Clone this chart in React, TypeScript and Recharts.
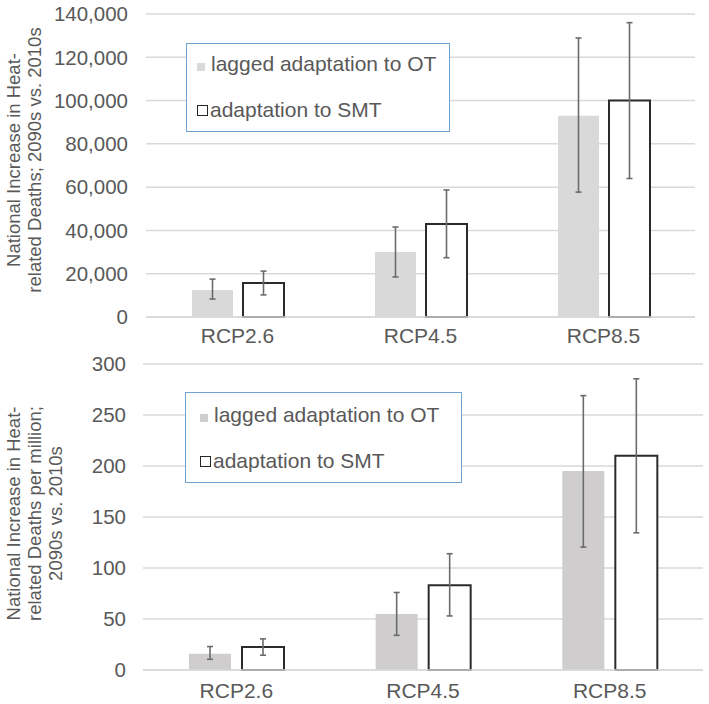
import { BarChart, Bar, XAxis, YAxis, CartesianGrid, ErrorBar, Legend } from 'recharts';

const categories = ['RCP2.6', 'RCP4.5', 'RCP8.5'];
const seriesNames = ['lagged adaptation to OT', 'adaptation to SMT'];

// top panel: national increase in deaths
const deathsLagged = [12500, 30000, 93000];
const deathsLaggedErr = [[4200, 5000], [11500, 11600], [35300, 35900]];
const deathsSMT = [15700, 43000, 100000];
const deathsSMTErr = [[5500, 5500], [15600, 15700], [36000, 36000]];
const deathsTicks = [0, 20000, 40000, 60000, 80000, 100000, 120000, 140000];

// bottom panel: deaths per million
const rateLagged = [16, 55, 195];
const rateLaggedErr = [[5.5, 7], [21, 21], [74.5, 74]];
const rateSMT = [22.5, 83, 210];
const rateSMTErr = [[8, 8], [30, 31], [75.5, 75.5]];
const rateTicks = [0, 50, 100, 150, 200, 250, 300];

const FONT = '"Liberation Sans", Arial, sans-serif';
const TEXT = '#595959';
const GRID = '#d9d9d9';

type PanelProps = {
  top: number;
  height: number;
  lagged: number[];
  laggedErr: number[][];
  smt: number[];
  smtErr: number[][];
  ticks: number[];
  axisWidth: number;
  marginTop: number;
  marginRight: number;
  marginBottom: number;
  xAxisHeight: number;
  xTickGap: number;
  yTickGap: number;
  grayFill: string;
  barSize: number;
  barGap: number;
  legendBox: { left: number; top: number; width: number; height: number; squareLeft: number; rows: number[] };
  labelLines: string[];
  labelCenter: { x: number; y: number };
};

function LegendBox({ box, grayFill }: { box: PanelProps['legendBox']; grayFill: string }) {
  return (
    <div
      style={{
        position: 'relative',
        width: box.width,
        height: box.height,
        boxSizing: 'border-box',
        border: '1.5px solid #6fa3d4',
        background: '#fff',
        fontFamily: FONT,
        fontSize: 21,
        color: TEXT,
      }}
    >
      {seriesNames.map((name, i) => (
        <div
          key={name}
          style={{
            position: 'absolute',
            left: box.squareLeft,
            top: box.rows[i] - 12,
            height: 24,
            display: 'flex',
            alignItems: 'center',
            whiteSpace: 'nowrap',
          }}
        >
          {i === 0 ? (
            <span style={{ width: 8, height: 8, background: grayFill, marginTop: 6, marginRight: 6 }} />
          ) : (
            <span
              style={{
                width: 11,
                height: 11,
                boxSizing: 'border-box',
                border: '1.5px solid #262626',
                background: '#fff',
                marginRight: 2,
              }}
            />
          )}
          <span>{name}</span>
        </div>
      ))}
    </div>
  );
}

function Panel(p: PanelProps) {
  const rows = categories.map((c, i) => ({
    name: c,
    lagged: p.lagged[i],
    laggedErr: p.laggedErr[i],
    smt: p.smt[i],
    smtErr: p.smtErr[i],
  }));
  const max = p.ticks[p.ticks.length - 1];

  return (
    <div style={{ position: 'absolute', left: 0, top: p.top, width: 709, height: p.height }}>
      <BarChart
        width={709}
        height={p.height}
        data={rows}
        margin={{ top: p.marginTop, right: p.marginRight, left: 0, bottom: p.marginBottom }}
        barSize={p.barSize}
        barGap={p.barGap}
      >
        <CartesianGrid vertical={false} stroke={GRID} strokeWidth={1.5} />
        <XAxis
          dataKey="name"
          height={p.xAxisHeight}
          axisLine={{ stroke: GRID, strokeWidth: 1.5 }}
          tickLine={false}
          tickMargin={p.xTickGap}
          tick={{ fill: TEXT, fontSize: 21, fontFamily: FONT }}
        />
        <YAxis
          width={p.axisWidth}
          domain={[0, max]}
          ticks={p.ticks}
          interval={0}
          axisLine={false}
          tickLine={false}
          tickMargin={p.yTickGap}
          tickFormatter={(v: number) => v.toLocaleString('en-US')}
          tick={{ fill: TEXT, fontSize: 20.5, fontFamily: FONT }}
        />
        <Legend
          layout="horizontal"
          verticalAlign="middle"
          align="center"
          wrapperStyle={{
            left: p.legendBox.left,
            top: p.legendBox.top,
            width: p.legendBox.width,
            height: p.legendBox.height,
          }}
          content={() => <LegendBox box={p.legendBox} grayFill={p.grayFill} />}
        />
        <Bar dataKey="lagged" name={seriesNames[0]} fill={p.grayFill} isAnimationActive={false}>
          <ErrorBar dataKey="laggedErr" width={3} stroke="#6b6b6b" strokeWidth={1.6} />
        </Bar>
        <Bar
          dataKey="smt"
          name={seriesNames[1]}
          fill="#ffffff"
          stroke="#2b2b2b"
          strokeWidth={2}
          isAnimationActive={false}
        >
          <ErrorBar dataKey="smtErr" width={3} stroke="#6b6b6b" strokeWidth={1.6} />
        </Bar>
      </BarChart>
      <div
        style={{
          position: 'absolute',
          left: p.labelCenter.x - 150,
          top: p.labelCenter.y - (p.labelLines.length * 21) / 2,
          width: 300,
          height: p.labelLines.length * 21,
          transform: 'rotate(-90deg)',
          transformOrigin: '50% 50%',
          textAlign: 'center',
          fontFamily: FONT,
          fontSize: 18.5,
          lineHeight: '21px',
          color: TEXT,
          whiteSpace: 'nowrap',
        }}
      >
        {p.labelLines.map((l) => (
          <div key={l}>{l}</div>
        ))}
      </div>
    </div>
  );
}

export default function App() {
  return (
    <div style={{ position: 'absolute', left: 0, top: 0, width: 709, height: 704, background: '#fff' }}>
      <Panel
        top={0}
        height={350}
        lagged={deathsLagged}
        laggedErr={deathsLaggedErr}
        smt={deathsSMT}
        smtErr={deathsSMTErr}
        ticks={deathsTicks}
        axisWidth={146}
        marginTop={14}
        marginRight={14}
        marginBottom={10}
        xAxisHeight={23}
        xTickGap={5}
        yTickGap={12}
        grayFill="#d9d9d9"
        barSize={41}
        barGap={10}
        legendBox={{ left: 186, top: 43, width: 264, height: 89, squareLeft: 10, rows: [20, 66] }}
        labelLines={['National Increase in Heat-', 'related Deaths; 2090s vs. 2010s']}
        labelCenter={{ x: 24, y: 160 }}
      />
      <Panel
        top={340}
        height={364}
        lagged={rateLagged}
        laggedErr={rateLaggedErr}
        smt={rateSMT}
        smtErr={rateSMTErr}
        ticks={rateTicks}
        axisWidth={143}
        marginTop={24}
        marginRight={6}
        marginBottom={0}
        xAxisHeight={34}
        xTickGap={7}
        yTickGap={11}
        grayFill="#cfcdcd"
        barSize={42}
        barGap={11}
        legendBox={{ left: 185, top: 52, width: 277, height: 91, squareLeft: 14, rows: [22, 68] }}
        labelLines={['National Increase in Heat-', 'related Deaths per million;', '2090s vs. 2010s']}
        labelCenter={{ x: 34, y: 173 }}
      />
    </div>
  );
}
